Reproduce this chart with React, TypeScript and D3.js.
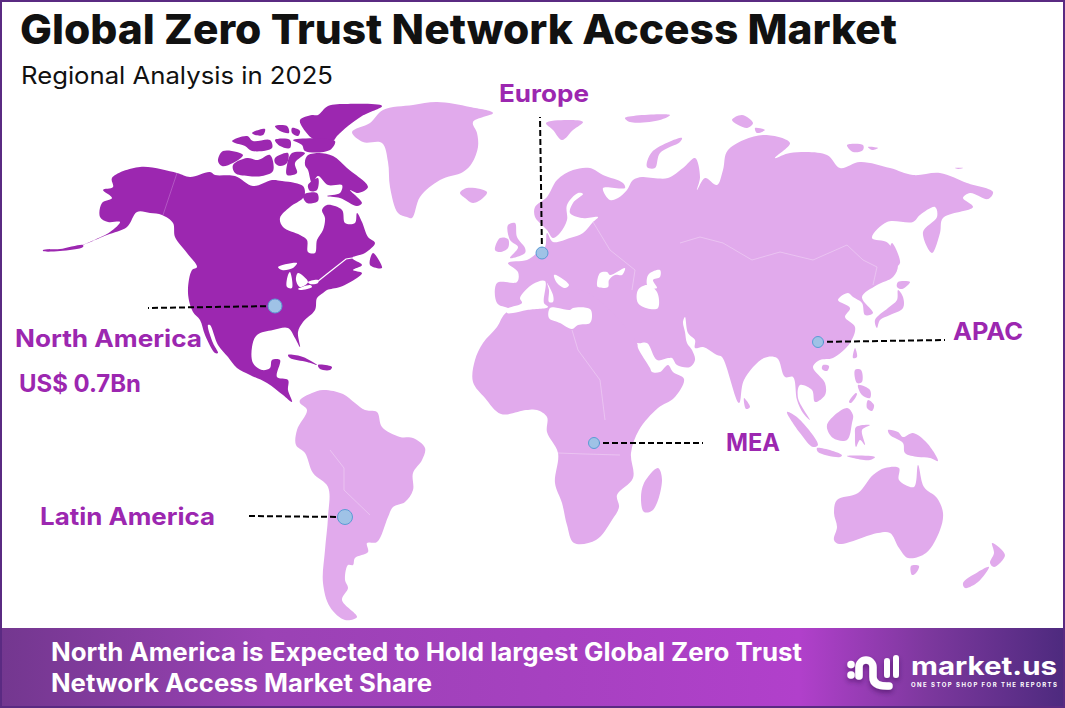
import * as d3 from 'd3';

// Chart text and callouts
const title = 'Global Zero Trust Network Access Market';
const subtitle = 'Regional Analysis in 2025';
const bannerLines = [
  'North America is Expected to Hold largest Global Zero Trust',
  'Network Access Market Share',
];
const leadRegion = 'North America';
const leadValue = 'US$ 0.7Bn';

type Pt = [number, number];

// Outlines, in map units east / north of the map origin
const northAmerica: Pt[] = [[-380,273],[-343,267],[-330,263],[-310,268],[-305,265],[-285,264],[-267,254],[-248,260],[-238,259],[-225,257],[-217,254],[-215,248],[-217,242],[-230,233],[-240,222],[-237,213],[-220,205],[-213,200],[-212,188],[-205,187],[-203,200],[-197,210],[-195,222],[-198,230],[-193,235],[-178,230],[-175,217],[-165,217],[-163,227],[-158,218],[-152,203],[-145,197],[-155,187],[-168,182],[-158,175],[-167,170],[-158,167],[-163,162],[-180,153],[-193,150],[-197,147],[-203,142],[-205,130],[-217,118],[-222,108],[-220,93],[-225,102],[-232,112],[-247,110],[-263,105],[-268,93],[-267,77],[-258,70],[-250,72],[-248,80],[-240,80],[-243,63],[-232,60],[-232,50],[-228,38],[-237,45],[-253,57],[-270,65],[-283,72],[-292,83],[-302,95],[-310,115],[-312,115],[-307,97],[-302,87],[-305,87],[-315,105],[-320,120],[-327,128],[-332,147],[-328,170],[-323,173],[-333,187],[-345,203],[-347,217],[-358,225],[-370,227],[-383,228],[-393,213],[-413,205],[-437,195],[-410,208],[-400,218],[-412,218],[-420,223],[-418,237],[-408,242],[-417,250],[-407,253],[-408,262]];
const aleutians: Pt[] = [[-437,195],[-460,191],[-477,190],[-477,189],[-460,189],[-437,193]];
const baffin: Pt[] = [[-215,275],[-213,284],[-202,287],[-187,284],[-173,272],[-152,253],[-162,247],[-170,250],[-158,237],[-163,234],[-180,242],[-193,244],[-180,247],[-178,255],[-192,255],[-202,264],[-208,257],[-212,270]];
const southampton: Pt[] = [[-217,245],[-203,247],[-202,239],[-213,237]];
const melvillePeninsula: Pt[] = [[-212,255],[-202,262],[-203,250],[-210,249]];
const banks: Pt[] = [[-302,279],[-297,289],[-277,285],[-287,277],[-298,274]];
const victoria: Pt[] = [[-287,275],[-273,282],[-262,280],[-250,285],[-247,269],[-258,264],[-272,264],[-285,267]];
const somerset: Pt[] = [[-228,287],[-215,287],[-225,277],[-223,267],[-233,265],[-233,275]];
const princeOfWales: Pt[] = [[-245,282],[-232,287],[-233,277],[-240,274],[-245,277]];
const ellesmere: Pt[] = [[-202,325],[-192,334],[-172,336],[-138,334],[-158,324],[-172,314],[-183,304],[-187,299],[-205,300],[-215,309],[-220,320],[-208,325]];
const devon: Pt[] = [[-227,300],[-185,299],[-190,290],[-215,289],[-218,295]];
const melville: Pt[] = [[-288,299],[-273,304],[-267,299],[-250,300],[-248,292],[-268,289],[-275,294],[-285,297]];
const bathurst: Pt[] = [[-245,314],[-233,314],[-231,307],[-240,309]];
const axelHeiberg: Pt[] = [[-228,312],[-220,309],[-222,304],[-228,307]];
const princePatrick: Pt[] = [[-268,307],[-255,311],[-257,305],[-265,305]];
const cornwallis: Pt[] = [[-245,300],[-230,300],[-230,292],[-240,294]];
const newfoundland: Pt[] = [[-147,187],[-138,172],[-150,175]];
const cuba: Pt[] = [[-232,85],[-217,83],[-203,75],[-213,78],[-230,82]];
const hispaniola: Pt[] = [[-202,75],[-188,73],[-190,70],[-200,71]];

const southAmerica: Pt[] = [[-220,40],[-208,47],[-197,50],[-177,46],[-165,37],[-155,30],[-143,28],[-138,13],[-120,3],[-107,2],[-95,-8],[-98,-20],[-107,-33],[-107,-50],[-115,-62],[-127,-67],[-132,-77],[-143,-102],[-153,-103],[-152,-112],[-165,-118],[-167,-125],[-172,-125],[-175,-140],[-172,-148],[-178,-160],[-163,-177],[-175,-180],[-190,-167],[-197,-143],[-195,-110],[-192,-77],[-192,-47],[-207,-33],[-215,-13],[-224,-5],[-223,10],[-213,30],[-220,37]];
const greenland: Pt[] = [[-168,308],[-150,317],[-137,330],[-107,335],[-83,338],[-50,333],[-27,327],[-47,318],[-43,307],[-42,293],[-48,277],[-57,268],[-80,260],[-100,243],[-108,222],[-113,223],[-122,227],[-130,253],[-132,278],[-138,297],[-157,298]];
const iceland: Pt[] = [[-60,247],[-53,252],[-33,248],[-37,242],[-47,237],[-55,242]];
const svalbard: Pt[] = [[26,317],[47,320],[63,318],[53,310],[42,300],[33,310]];
const franzJosef: Pt[] = [[105,322],[150,325],[140,320],[110,318]];
const novayaZemlya: Pt[] = [[127,273],[132,288],[162,302],[160,298],[140,287],[135,272]];
const severnayaA: Pt[] = [[212,320],[222,325],[233,317],[227,312]];
const severnayaB: Pt[] = [[235,312],[245,310],[237,307]];
const newSiberianA: Pt[] = [[327,295],[343,295],[343,290],[333,288]];
const newSiberianB: Pt[] = [[348,293],[358,292],[352,290]];
const wrangel: Pt[] = [[435,272],[443,272],[438,271]];
const britain: Pt[] = [[-12,215],[-5,217],[-3,203],[5,192],[5,187],[-10,182],[-2,193],[-10,200]];
const ireland: Pt[] = [[-25,190],[-20,202],[-12,201],[-12,192],[-20,188]];
const eurasia: Pt[] = [[-12,132],[-23,137],[-23,157],[-3,158],[-2,168],[-12,177],[7,180],[17,187],[25,193],[27,207],[33,198],[50,202],[63,207],[73,218],[78,223],[62,222],[50,227],[53,237],[63,246],[58,247],[47,235],[47,220],[40,207],[33,202],[27,210],[22,215],[15,223],[15,233],[27,243],[37,260],[53,270],[70,272],[83,265],[103,257],[105,252],[83,252],[90,240],[98,242],[107,250],[113,260],[122,263],[133,262],[148,262],[163,272],[175,282],[180,263],[177,250],[185,262],[197,255],[203,270],[208,290],[243,305],[270,297],[255,282],[270,287],[307,285],[320,272],[340,278],[370,272],[393,265],[420,267],[447,257],[473,248],[468,241],[450,247],[443,242],[453,233],[423,222],[420,207],[412,187],[403,208],[417,223],[415,233],[400,225],[393,218],[367,218],[352,202],[368,197],[378,175],[373,163],[357,155],[342,143],[353,127],[345,125],[342,137],[333,143],[328,147],[318,140],[330,132],[325,123],[335,113],[330,97],[313,82],[300,80],[293,73],[305,57],[305,45],[295,38],[292,50],[280,55],[278,42],[290,20],[283,27],[277,40],[273,63],[265,63],[257,82],[244,82],[224,60],[219,37],[202,83],[197,85],[183,93],[175,92],[175,100],[168,107],[165,123],[163,118],[165,108],[167,97],[172,90],[175,80],[170,73],[157,75],[152,82],[148,82],[137,80],[127,97],[117,97]];
const africa: Pt[] = [[-13,128],[-23,113],[-37,97],[-45,80],[-47,58],[-35,42],[-19,26],[6,30],[17,30],[27,23],[27,8],[38,-13],[35,-43],[42,-63],[47,-85],[54,-103],[76,-100],[92,-80],[99,-67],[97,-55],[113,-38],[111,-13],[119,10],[138,32],[154,42],[164,61],[153,68],[148,75],[140,68],[132,68],[130,72],[118,92],[117,97],[60,150]];
const madagascar: Pt[] = [[138,-28],[142,-40],[133,-70],[124,-72],[121,-60],[124,-43]];
const sriLanka: Pt[] = [[224,42],[230,33],[226,31]];
const honshu: Pt[] = [[378,150],[383,143],[383,132],[370,125],[360,120],[357,112],[355,120],[368,132],[377,140]];
const hokkaido: Pt[] = [[378,158],[390,158],[382,151],[377,153]];
const sakhalin: Pt[] = [[372,197],[380,177],[375,173],[370,192]];
const taiwan: Pt[] = [[335,92],[337,83],[333,82]];
const hainan: Pt[] = [[303,75],[309,74],[307,69],[302,71]];
const luzon: Pt[] = [[335,70],[341,70],[342,58],[337,57]];
const mindanao: Pt[] = [[348,40],[354,35],[352,29],[347,32]];
const visayas: Pt[] = [[338,55],[350,50],[350,42],[342,45]];
const palawan: Pt[] = [[329,38],[336,47],[337,46],[331,37]];
const sumatra: Pt[] = [[267,28],[278,22],[298,-5],[293,-7],[280,7]];
const java: Pt[] = [[297,-8],[322,-15],[320,-17],[298,-12]];
const lesserSunda: Pt[] = [[327,-16],[355,-17],[350,-20],[333,-18]];
const borneo: Pt[] = [[307,15],[327,32],[333,25],[332,17],[327,0],[313,2]];
const sulawesi: Pt[] = [[336,13],[350,15],[342,10],[345,-5],[340,0],[336,-7],[335,5]];
const newGuinea: Pt[] = [[368,10],[378,8],[383,3],[393,7],[407,-3],[418,-21],[410,-18],[398,-17],[385,-13],[383,-3],[370,5]];
const australia: Pt[] = [[398,-25],[404,-47],[417,-58],[423,-73],[420,-90],[406,-113],[388,-118],[379,-108],[370,-93],[358,-93],[319,-104],[314,-100],[317,-87],[314,-73],[317,-60],[338,-53],[353,-35],[365,-28],[379,-28],[379,-40],[394,-47]];
const tasmania: Pt[] = [[391,-126],[399,-126],[396,-133],[392,-135]];
const nzNorth: Pt[] = [[472,-103],[485,-115],[474,-127],[470,-123],[474,-113]];
const nzSouth: Pt[] = [[469,-127],[458,-142],[445,-148],[443,-143],[458,-132]];

// Water cut out of the land
const superior: Pt[] = [[-242,173],[-223,177],[-227,172],[-238,170]];
const michigan: Pt[] = [[-230,168],[-228,152],[-233,153],[-232,165]];
const huron: Pt[] = [[-222,167],[-212,158],[-220,153],[-224,160]];
const erie: Pt[] = [[-222,151],[-210,155],[-208,153],[-220,150]];
const ontario: Pt[] = [[-212,158],[-202,160],[-202,157],[-210,156]];
const medWest: Pt[] = [[-13,131],[2,137],[0,142],[13,156],[25,159],[24,137],[28,133],[7,130],[-7,127],[-13,127]];
const tyrrhenian: Pt[] = [[27,157],[33,145],[33,138],[29,138],[29,150]];
const medEast: Pt[] = [[30,132],[38,132],[50,130],[53,132],[70,131],[72,125],[70,117],[58,115],[52,111],[40,117],[29,122]];
const adriatic: Pt[] = [[34,165],[38,164],[49,155],[45,152],[37,157]];
const blackSea: Pt[] = [[77,155],[80,167],[87,168],[90,165],[105,172],[102,165],[95,165],[89,160],[88,153],[78,153]];
const caspian: Pt[] = [[118,150],[127,155],[137,148],[138,132],[130,131],[118,137]];
const aral: Pt[] = [[130,167],[140,170],[140,163],[133,160],[137,152],[128,153],[127,162]];

// River drawn as a thin line, faint borders as lines too
const stLawrence: Pt[] = [[-203,158],[-193,166],[-174,181],[-168,182]];
const alaskaBorder: Pt[] = [[-343,267],[-357,225]];
const russiaChina: Pt[] = [[160,197],[180,203],[203,197],[232,180],[260,188],[293,180],[327,195],[343,180],[357,173],[353,155]];
const brazilWest: Pt[] = [[-190,-10],[-176,-28],[-176,-50],[-150,-75]];
const saharaEast: Pt[] = [[52,110],[58,90],[80,60],[85,20]];
const congoSouth: Pt[] = [[38,-13],[65,-14],[100,-15]];
const easternEurope: Pt[] = [[73,218],[90,190],[115,170],[112,150]];

const highlighted = [northAmerica, aleutians, baffin, southampton, melvillePeninsula, banks, victoria, somerset, princeOfWales, ellesmere, devon, melville, bathurst, axelHeiberg, princePatrick, cornwallis, newfoundland, cuba, hispaniola];
const otherLand = [southAmerica, greenland, iceland, svalbard, franzJosef, novayaZemlya, severnayaA, severnayaB, newSiberianA, newSiberianB, wrangel, britain, ireland, eurasia, africa, madagascar, sriLanka, honshu, hokkaido, sakhalin, taiwan, hainan, luzon, mindanao, visayas, palawan, sumatra, java, lesserSunda, borneo, sulawesi, newGuinea, australia, tasmania, nzNorth, nzSouth];
const water = [superior, michigan, huron, erie, ontario, medWest, tyrrhenian, medEast, adriatic, blackSea, caspian, aral];
const darkBorders = [alaskaBorder];
const lightBorders = [russiaChina, brazilWest, saharaEast, congoSouth, easternEurope];

const calloutNames = ['North America', 'Europe', 'APAC', 'MEA', 'Latin America'];
const calloutAnchors: Pt[] = [[-245,134], [22,187], [298,98], [74,-3], [-175,-77]];
const calloutEnds: Pt[] = [[-372,132], [20,323], [425,100], [183,-3], [-274,-76]];
const calloutSizes = [7, 6, 5.5, 5.5, 7.5];

const WIDTH = 1065;
const HEIGHT = 708;
const mapX = d3.scaleLinear().domain([-520, 545]).range([0, WIDTH]);
const mapY = d3.scaleLinear().domain([440, -268]).range([0, HEIGHT]);

const outline = d3.line<Pt>().x(d => mapX(d[0])).y(d => mapY(d[1])).curve(d3.curveCatmullRomClosed.alpha(0.5));
const open = d3.line<Pt>().x(d => mapX(d[0])).y(d => mapY(d[1]));

const PURPLE = '#9c27b0';
const LIGHT = '#e1aaec';
const FONT = 'Inter, "Open Sans", sans-serif';

function Label({ x, y, w, size, children, fill = PURPLE, weight = 700 }: any) {
  return (
    <text x={x} y={y} fontSize={size} fontWeight={weight} fill={fill} fontFamily={FONT}
      textLength={w} lengthAdjust="spacingAndGlyphs">{children}</text>
  );
}

export default function App() {
  return (
    <svg width={WIDTH} height={HEIGHT} style={{ position: 'absolute', left: 0, top: 0, display: 'block' }}>
      <defs>
        <linearGradient id="banner" x1="0" x2="1" y1="0" y2="0">
          <stop offset="0" stopColor="#73378f" />
          <stop offset="0.25" stopColor="#9a42b4" />
          <stop offset="0.75" stopColor="#b140cb" />
          <stop offset="0.87" stopColor="#7d389e" />
          <stop offset="1" stopColor="#4d2a7e" />
        </linearGradient>
        <filter id="logoShadow" x="-30%" y="-30%" width="160%" height="180%">
          <feDropShadow dx="0" dy="3" stdDeviation="2.5" floodColor="#2a0f45" floodOpacity="0.45" />
        </filter>
      </defs>
      <rect width={WIDTH} height={HEIGHT} fill="#fff" />

      <g>
        {otherLand.map((d, i) => <path key={i} d={outline(d) ?? ''} fill={LIGHT} />)}
        {highlighted.map((d, i) => <path key={i} d={outline(d) ?? ''} fill={PURPLE} />)}
        {water.map((d, i) => <path key={i} d={outline(d) ?? ''} fill="#fff" />)}
        <path d={open(stLawrence) ?? ''} fill="none" stroke="#fff" strokeWidth={1.2} />
        {lightBorders.map((d, i) => <path key={i} d={open(d) ?? ''} fill="none" stroke="#ecc9f3" strokeWidth={0.8} />)}
        {darkBorders.map((d, i) => <path key={i} d={open(d) ?? ''} fill="none" stroke="#b860c8" strokeWidth={0.8} />)}
      </g>

      <Label x={20} y={44} w={877} size={41} weight={800} fill="#111">{title}</Label>
      <text x={21} y={84} fontSize={24} fontFamily={FONT} fill="#111" textLength={312} lengthAdjust="spacingAndGlyphs">{subtitle}</text>

      {calloutNames.map((name, i) => (
        <g key={name}>
          <line x1={mapX(calloutAnchors[i][0])} y1={mapY(calloutAnchors[i][1])}
            x2={mapX(calloutEnds[i][0])} y2={mapY(calloutEnds[i][1])}
            stroke="#000" strokeWidth={2} strokeDasharray="6 3" />
          <circle cx={mapX(calloutAnchors[i][0])} cy={mapY(calloutAnchors[i][1])} r={calloutSizes[i]}
            fill="#9fc2e6" stroke="#5b9bd5" strokeWidth={1} />
        </g>
      ))}

      <Label x={15} y={347} w={187} size={24}>{leadRegion}</Label>
      <Label x={19} y={392} w={122} size={24}>{leadValue}</Label>
      <Label x={499} y={102} w={90} size={24}>Europe</Label>
      <Label x={953} y={340} w={70} size={24}>APAC</Label>
      <Label x={726} y={451} w={54} size={24}>MEA</Label>
      <Label x={40} y={525} w={175} size={24}>Latin America</Label>

      <rect x={0} y={628} width={WIDTH} height={80} fill="url(#banner)" />
      <rect x={1} y={1} width={WIDTH - 2} height={HEIGHT - 2} fill="none" stroke="#5a2a82" strokeWidth={2} />

      <Label x={51} y={661} w={751} size={25} fill="#fff">{bannerLines[0]}</Label>
      <Label x={51} y={692} w={381} size={25} fill="#fff">{bannerLines[1]}</Label>

      <g filter="url(#logoShadow)" fill="none" stroke="#fff" strokeWidth={7.5} strokeLinecap="round">
        <path d="M859 676 V667 a7 7 0 0 1 14 0 V677 q0 9 14 9 h2" />
        <path d="M851 664.5 v0.1 M851 675 v0.1" />
        <path d="M887 661 V675 M896 658 V675" strokeWidth={6} />
      </g>
      <Label x={911} y={675} w={146} size={25} fill="#fff">market.us</Label>
      <text x={911} y={687} fontSize={6} fontWeight={700} fill="#fff" fontFamily={FONT}
        textLength={146} lengthAdjust="spacing">ONE STOP SHOP FOR THE REPORTS</text>
    </svg>
  );
}
